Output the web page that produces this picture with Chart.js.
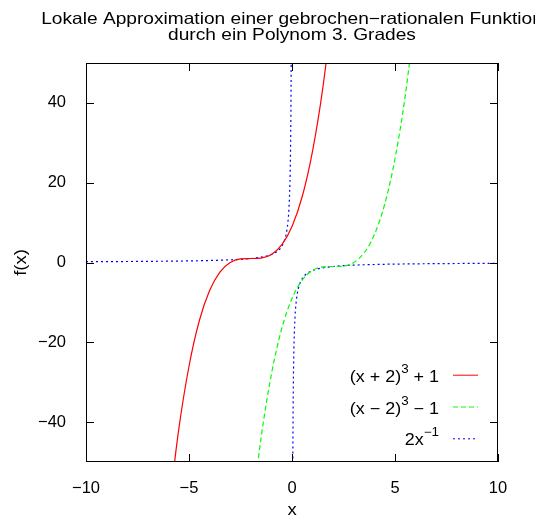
<!DOCTYPE html>
<html>
<head>
<meta charset="utf-8">
<script src="https://cdn.jsdelivr.net/npm/chart.js@4/dist/chart.umd.min.js"></script>
<style>
  body{margin:0;background:#fff;}
</style>
</head>
<body>
<canvas id="chartCanvas" width="535" height="516"></canvas>
<script>
// -------- DATA --------
const titleLines = ["Lokale Approximation einer gebrochen\u2212rationalen Funktion", "durch ein Polynom 3. Grades"];
const xLabel = "x";
const yLabel = "f(x)";
const xTicks = [-10, -5, 0, 5, 10];
const yTicks = [-40, -20, 0, 20, 40];

// legend text: [before superscript, superscript, after]
const legendLabels = [
  ["(x + 2)", "3", " + 1"],
  ["(x \u2212 2)", "3", " \u2212 1"],
  ["2x", "\u22121", ""]
];

// red: (x+2)^3 + 1
const redX = [-6, -5.5, -5, -4.5, -4, -3.5, -3, -2.5, -2, -1.5, -1, -0.5, 0, 0.5, 1, 1.5, 2];
const redY = [-63, -41.9, -26, -14.6, -7, -2.4, 0, 0.9, 1, 1.1, 2, 4.4, 9, 16.6, 28, 43.9, 65];

// green: (x-2)^3 - 1
const greenX = [-2, -1.5, -1, -0.5, 0, 0.5, 1, 1.5, 2, 2.5, 3, 3.5, 4, 4.5, 5, 5.5, 6];
const greenY = [-65, -43.9, -28, -16.6, -9, -4.4, -2, -1.1, -1, -0.9, 0, 2.4, 7, 14.6, 26, 41.9, 63];

// blue: the rational function (gap at the pole)
const blueX = [-10, -9, -8, -7, -6, -5, -4, -3.5, -3, -2.5, -2, -1.75, -1.5, -1.25, -1, -0.8, -0.6, -0.5, -0.4, -0.3,
  -0.25, -0.2, -0.15, -0.1, -0.08, -0.06, -0.05, -0.04, -0.03, 0,
  0.03, 0.04, 0.05, 0.06, 0.08, 0.1, 0.15, 0.2, 0.25, 0.3, 0.4, 0.5, 0.6, 0.8, 1, 1.25, 1.5, 1.75,
  2, 2.5, 3, 3.5, 4, 5, 6, 7, 8, 9, 10];
const blueY = [0.2, 0.22, 0.25, 0.29, 0.33, 0.4, 0.5, 0.57, 0.67, 0.8, 1, 1.14, 1.33, 1.6, 2, 2.5, 3.33, 4, 5, 6.67,
  8, 10, 13.3, 20, 25, 33.3, 40, 50, 66.7, null,
  -66.7, -50, -40, -33.3, -25, -20, -13.3, -10, -8, -6.67, -5, -4, -3.33, -2.5, -2, -1.6, -1.33, -1.14,
  -1, -0.8, -0.67, -0.57, -0.5, -0.4, -0.33, -0.29, -0.25, -0.22, -0.2];

const pts = (xs, ys) => xs.map((x, i) => ({x: x, y: ys[i]}));

// ---------- STYLE ----------
const FONT = "'Liberation Sans', Arial, sans-serif";
const STRETCH = 1.12;
const colors = ["#ff0000", "#00ff00", "#0000ff"];
const dashes = [[], [5, 3], [2, 3]];

function stretchedText(ctx, str, x, y, align, size, rot, k){
  ctx.save();
  ctx.translate(x, y);
  if(rot) ctx.rotate(rot);
  ctx.scale(k || STRETCH, 1);
  ctx.font = size + "px " + FONT;
  ctx.textAlign = align;
  ctx.fillText(str, 0, 0);
  ctx.restore();
}
function textW(ctx, str, size){
  ctx.font = size + "px " + FONT;
  return ctx.measureText(str).width * STRETCH;
}

// frame, inward ticks, titles and key (gnuplot look)
const gnuplotLook = {
  id: "gnuplotLook",
  afterDraw(chart){
    const {ctx, chartArea: a, scales} = chart;
    const sx = scales.x, sy = scales.y;
    ctx.save();
    ctx.strokeStyle = "#000";
    ctx.lineWidth = 1;
    ctx.setLineDash([]);
    ctx.strokeRect(a.left + 0.5, a.top + 0.5, a.right - a.left - 1, a.bottom - a.top - 1);
    const tl = 8;
    ctx.beginPath();
    xTicks.forEach(v => {
      const px = Math.round(sx.getPixelForValue(v)) + 0.5;
      ctx.moveTo(px, a.bottom); ctx.lineTo(px, a.bottom - tl);
      ctx.moveTo(px, a.top); ctx.lineTo(px, a.top + tl);
    });
    yTicks.forEach(v => {
      const py = Math.round(sy.getPixelForValue(v)) + 0.5;
      ctx.moveTo(a.left, py); ctx.lineTo(a.left + tl, py);
      ctx.moveTo(a.right, py); ctx.lineTo(a.right - tl, py);
    });
    ctx.stroke();

    ctx.fillStyle = "#000";
    ctx.textBaseline = "alphabetic";
    const cx = (a.left + a.right) / 2;
    stretchedText(ctx, titleLines[0], cx, 24, "center", 16.5, 0, 1.16);
    stretchedText(ctx, titleLines[1], cx, 40.3, "center", 16.5, 0, 1.16);
    stretchedText(ctx, xLabel, cx, 515, "center", 16.5);
    ctx.textBaseline = "middle";
    stretchedText(ctx, yLabel, 21, (a.top + a.bottom) / 2, "center", 16.5, -Math.PI / 2);

    // key
    ctx.textBaseline = "alphabetic";
    legendLabels.forEach((p, i) => {
      const ly = 374.7 + i * 31.8;
      const base = ly + 7;
      const w0 = textW(ctx, p[0], 16), w1 = textW(ctx, p[1], 12), w2 = textW(ctx, p[2], 16);
      let tx = 439 - (w0 + w1 + w2);
      stretchedText(ctx, p[0], tx, base, "left", 16); tx += w0;
      stretchedText(ctx, p[1], tx, base - 9, "left", 12); tx += w1;
      stretchedText(ctx, p[2], tx, base, "left", 16);
      ctx.strokeStyle = colors[i];
      ctx.setLineDash(dashes[i]);
      ctx.beginPath();
      ctx.moveTo(453, ly + 0.5); ctx.lineTo(478, ly + 0.5);
      ctx.stroke();
    });
    ctx.restore();
  }
};

const curve = (data, i) => ({
  data: data,
  borderColor: colors[i],
  borderDash: dashes[i],
  borderWidth: 1.2,
  pointRadius: 0,
  fill: false,
  spanGaps: false,
  cubicInterpolationMode: "monotone"
});

new Chart(document.getElementById("chartCanvas"), {
  type: "line",
  data: {
    datasets: [
      curve(pts(redX, redY), 0),
      curve(pts(greenX, greenY), 1),
      curve(pts(blueX, blueY), 2)
    ]
  },
  options: {
    responsive: false,
    animation: false,
    events: [],
    layout: {padding: {top: 63, right: 37, left: 0, bottom: 0}},
    plugins: {legend: {display: false}, tooltip: {enabled: false}, title: {display: false}},
    scales: {
      x: {
        type: "linear", min: -10, max: 10,
        afterFit: s => { s.height = 54; },
        afterBuildTicks: s => { s.ticks = xTicks.map(v => ({value: v})); },
        grid: {display: false},
        border: {display: false},
        ticks: {
          padding: 9, color: "#000", maxRotation: 0, autoSkip: false,
          font: {family: FONT, size: 16.5},
          callback: v => String(v).replace("-", "\u2212")
        }
      },
      y: {
        type: "linear", min: -50, max: 50,
        afterFit: s => { s.width = 86; },
        afterBuildTicks: s => { s.ticks = yTicks.map(v => ({value: v})); },
        grid: {display: false},
        border: {display: false},
        ticks: {
          padding: 12, color: "#000", autoSkip: false,
          font: {family: FONT, size: 16.5},
          callback: v => String(v).replace("-", "\u2212")
        }
      }
    }
  },
  plugins: [gnuplotLook]
});
</script>
</body>
</html>
